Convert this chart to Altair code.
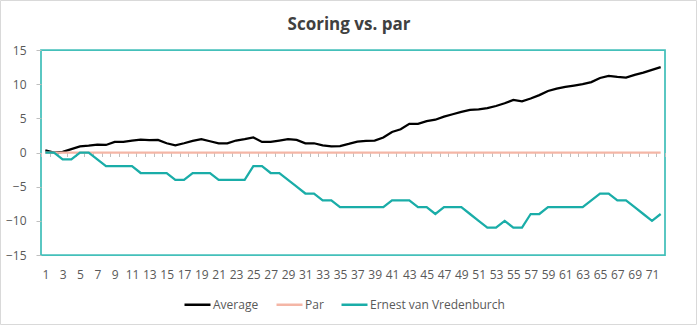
import altair as alt
import pandas as pd

rounds = list(range(1, 73))

average = [0.3, 0.0, 0.1, 0.5, 0.9, 1.0, 1.15, 1.1, 1.55, 1.55,
           1.75, 1.9, 1.8, 1.85, 1.35, 1.05, 1.35, 1.7, 1.95, 1.65,
           1.35, 1.35, 1.75, 1.95, 2.2, 1.55, 1.55, 1.75, 1.95, 1.85,
           1.35, 1.35, 1.05, 0.9, 0.95, 1.25, 1.6, 1.7, 1.75, 2.2,
           3.0, 3.4, 4.2, 4.2, 4.6, 4.8, 5.25, 5.6, 5.95, 6.25,
           6.3, 6.5, 6.8, 7.2, 7.7, 7.5, 7.9, 8.4, 9.0, 9.35,
           9.6, 9.8, 10.0, 10.3, 10.9, 11.2, 11.05, 10.95, 11.35, 11.7, 12.1, 12.5]

par = [0, 0, 0, 0, 0, 0, 0, 0, 0, 0, 0, 0, 0, 0, 0, 0, 0, 0, 0, 0, 0, 0, 0, 0,
       0, 0, 0, 0, 0, 0, 0, 0, 0, 0, 0, 0, 0, 0, 0, 0, 0, 0, 0, 0, 0, 0, 0, 0,
       0, 0, 0, 0, 0, 0, 0, 0, 0, 0, 0, 0, 0, 0, 0, 0, 0, 0, 0, 0, 0, 0, 0, 0]

ernest = [0, 0, -1, -1, 0, 0, -1, -2, -2, -2,
          -2, -3, -3, -3, -3, -4, -4, -3, -3, -3,
          -4, -4, -4, -4, -2, -2, -3, -3, -4, -5,
          -6, -6, -7, -7, -8, -8, -8, -8, -8, -8,
          -7, -7, -7, -8, -8, -9, -8, -8, -8, -9,
          -10, -11, -11, -10, -11, -11, -9, -9, -8, -8,
          -8, -8, -8, -7, -6, -6, -7, -7, -8, -9, -10, -9]

series_names = ["Average", "Par", "Ernest van Vredenburch"]
series_colors = ["#000000", "#F4B6A6", "#1AADA8"]
y_ticks = [-15, -10, -5, 0, 5, 10, 15]
x_labels = list(range(1, 72, 2))
x_tick_marks = [r - 0.5 for r in range(1, 74)]

rows = []
for name, vals in zip(series_names, [average, par, ernest]):
    for r, v in zip(rounds, vals):
        rows.append({"round": r, "value": v, "series": name})
df = pd.DataFrame(rows)

W, H = 624, 205
FONT = "Open Sans"

color = alt.Color("series:N",
                  scale=alt.Scale(domain=series_names, range=series_colors),
                  sort=series_names,
                  legend=alt.Legend(title=None, orient="none", direction="horizontal",
                                    legendX=142, legendY=240,
                                    symbolType="stroke", symbolSize=676,
                                    symbolStrokeWidth=2.5, labelFontSize=12,
                                    labelColor="#595959", labelFont=FONT,
                                    columnPadding=12, labelOffset=1))

y = alt.Y("value:Q",
          scale=alt.Scale(domain=[-15, 15], nice=False, zero=False),
          axis=alt.Axis(values=y_ticks, grid=False, domain=False,
                        tickColor="#BFBFBF", tickSize=5, labelPadding=10,
                        labelColor="#595959", labelFontSize=12, labelFont=FONT,
                        title=None))

xscale = alt.Scale(domain=[0.5, 72.5], nice=False, zero=False)

base = alt.Chart(df)

avg_layer = base.transform_filter(alt.datum.series == "Average").mark_line(
    strokeWidth=2.25).encode(
    x=alt.X("round:Q", scale=xscale,
            axis=alt.Axis(values=x_labels, ticks=False, domain=False, grid=False,
                          labelPadding=14, labelAngle=0, labelOverlap=False,
                          labelFlush=False, labelColor="#595959", labelFontSize=12,
                          labelFont=FONT, title=None, orient="bottom")),
    y=y, color=color)

par_layer = base.transform_filter(alt.datum.series == "Par").mark_line(
    strokeWidth=2.25).encode(
    x=alt.X("round:Q", scale=xscale,
            axis=alt.Axis(values=x_tick_marks, labels=False, domain=False, grid=False,
                          tickSize=4, tickColor="#BFBFBF", offset=-H / 2,
                          title=None, orient="bottom")),
    y=y, color=color)

ern_layer = base.transform_filter(alt.datum.series == "Ernest van Vredenburch").mark_line(
    strokeWidth=2.25).encode(
    x=alt.X("round:Q", scale=xscale, axis=None),
    y=y, color=color)

border = alt.Chart(pd.DataFrame({"k": [0]})).mark_rect(
    filled=False, stroke="#D9D9D9", strokeWidth=1).encode(
    x=alt.value(-40.5), x2=alt.value(655.5), y=alt.value(-49.5), y2=alt.value(274.5))

chart = alt.layer(border, avg_layer, par_layer, ern_layer).resolve_axis(
    x="independent").properties(
    width=W, height=H,
    title=alt.TitleParams("Scoring vs. par", fontSize=17, fontWeight="bold",
                          font=FONT, color="#404040", anchor="middle", dx=-4,
                          offset=-10, dy=24),
    autosize=alt.AutoSizeParams(type="none"),
    padding={"left": 41, "top": 50, "right": 32, "bottom": 70},
    background="white",
).configure_view(stroke="#44C0BA", strokeWidth=1.75)

chart.save("out.html", embed_options={"renderer": "svg", "actions": False})
